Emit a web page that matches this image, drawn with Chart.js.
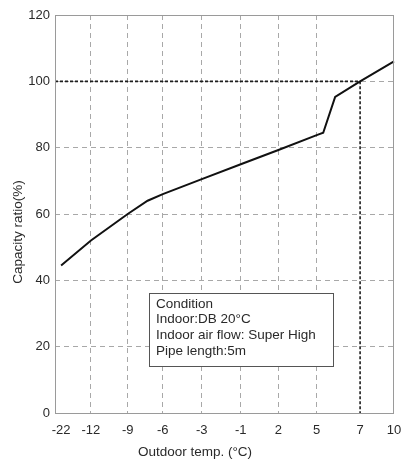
<!DOCTYPE html>
<html>
<head>
<meta charset="utf-8">
<script src="https://cdn.jsdelivr.net/npm/chart.js@4/dist/chart.umd.min.js"></script>
<style>
  html, body { margin: 0; padding: 0; background: #fff; }
  #wrap { width: 402px; height: 473px; }
</style>
</head>
<body>
<div id="wrap"><canvas id="c" width="402" height="473"></canvas></div>
<script>
// ---- data ----
const outdoorTemps = [-22, -12, -9, -7.3, -6, -3, -1, 2, 5, 5.3, 5.85, 7, 10];
const capacityRatios = [44.5, 52, 60, 64, 66, 70.5, 75, 79.3, 83.8, 84.5, 95.3, 100, 106];
const xTickLabels = [-22, -12, -9, -6, -3, -1, 2, 5, 7, 10];
const yTickLabels = [0, 20, 40, 60, 80, 100, 120];
const ratedTemp = 7;
const ratedRatio = 100;
const conditionLines = ["Condition", "Indoor:DB 20°C", "Indoor air flow: Super High", "Pipe length:5m"];
const xTitle = "Outdoor temp. (°C)";
const yTitle = "Capacity ratio(%)";

// ---- layout of the non-uniform temperature axis (fraction of axis width per tick) ----
const xTickFractions = [0.018, 0.106, 0.2145, 0.318, 0.433, 0.548, 0.659, 0.772, 0.900, 1.0];

function tempToFrac(v) {
  const t = xTickLabels, f = xTickFractions, n = t.length;
  let i = 0;
  if (v <= t[0]) i = 0;
  else if (v >= t[n - 1]) i = n - 2;
  else { while (i < n - 2 && v > t[i + 1]) i++; }
  return f[i] + (v - t[i]) / (t[i + 1] - t[i]) * (f[i + 1] - f[i]);
}
function fracToTemp(p) {
  const t = xTickLabels, f = xTickFractions, n = t.length;
  let i = 0;
  if (p <= f[0]) i = 0;
  else if (p >= f[n - 1]) i = n - 2;
  else { while (i < n - 2 && p > f[i + 1]) i++; }
  return t[i] + (p - f[i]) / (f[i + 1] - f[i]) * (t[i + 1] - t[i]);
}

class PiecewiseScale extends Chart.LinearScale {
  determineDataLimits() {
    this.min = fracToTemp(0);
    this.max = fracToTemp(1);
  }
  buildTicks() {
    return xTickLabels.map(v => ({ value: v }));
  }
  getPixelForValue(value) {
    return this.getPixelForDecimal(tempToFrac(value));
  }
  getValueForPixel(pixel) {
    return fracToTemp(this.getDecimalForPixel(pixel));
  }
}
PiecewiseScale.id = 'piecewise';
PiecewiseScale.defaults = Chart.LinearScale.defaults;
Chart.register(PiecewiseScale);

const FONT = "'Liberation Sans', Arial, sans-serif";
const TEXT = '#2a2a2a';

const decor = {
  id: 'decor',
  beforeDatasetsDraw(chart) {
    const { ctx, chartArea: a, scales: { x, y } } = chart;
    const px = x.getPixelForValue(ratedTemp);
    const py = y.getPixelForValue(ratedRatio);
    const py0 = y.getPixelForValue(0);
    ctx.save();
    ctx.strokeStyle = '#1e1e1e';
    ctx.lineWidth = 1.6;
    ctx.setLineDash([3, 2]);
    ctx.beginPath();
    ctx.moveTo(a.left, py);
    ctx.lineTo(px, py);
    ctx.moveTo(px, py);
    ctx.lineTo(px, py0);
    ctx.stroke();
    ctx.restore();
  },
  afterDraw(chart) {
    const { ctx, chartArea: a } = chart;
    ctx.save();
    // plot frame
    ctx.strokeStyle = '#9a9a9a';
    ctx.lineWidth = 1;
    ctx.setLineDash([]);
    ctx.strokeRect(Math.round(a.left) + 0.5, Math.round(a.top) + 0.5,
                   Math.round(a.right - a.left) - 1, Math.round(a.bottom - a.top));
    // condition box
    const bx = a.left + 94, by = a.top + 278, bw = 184, bh = 73;
    ctx.fillStyle = '#fff';
    ctx.fillRect(bx, by, bw, bh);
    ctx.strokeStyle = '#555';
    ctx.strokeRect(bx + 0.5, by + 0.5, bw, bh);
    ctx.fillStyle = TEXT;
    ctx.font = "13.5px " + FONT;
    ctx.textBaseline = 'middle';
    ctx.textAlign = 'left';
    conditionLines.forEach((s, i) => ctx.fillText(s, bx + 7, by + 11 + i * 15.6));
    // axis titles
    ctx.textAlign = 'center';
    ctx.fillText(xTitle, 195, 452);
    ctx.translate(18, 232);
    ctx.rotate(-Math.PI / 2);
    ctx.fillText(yTitle, 0, 0);
    ctx.restore();
  }
};

new Chart(document.getElementById('c'), {
  type: 'line',
  data: {
    datasets: [{
      data: outdoorTemps.map((t, i) => ({ x: t, y: capacityRatios[i] })),
      borderColor: '#111',
      borderWidth: 2,
      pointRadius: 0,
      tension: 0,
      fill: false
    }]
  },
  options: {
    responsive: false,
    animation: false,
    devicePixelRatio: 1,
    layout: { padding: { left: 0, top: 15, right: 8, bottom: 0 } },
    plugins: { legend: { display: false }, tooltip: { enabled: false } },
    scales: {
      x: {
        type: 'piecewise',
        afterFit(s) { s.height = 60; s.paddingLeft = 0; s.paddingRight = 0; },
        border: { display: false, dash: [5, 4] },
        grid: {
          drawTicks: false,
          lineWidth: 1,
          color: c => (c.tick && (c.tick.value === -22 || c.tick.value === 7 || c.tick.value === 10)) ? 'rgba(0,0,0,0)' : '#a8a8a8'
        },
        ticks: {
          autoSkip: false, maxRotation: 0, padding: 10,
          color: TEXT, font: { family: FONT, size: 13 },
          callback: v => String(v)
        }
      },
      y: {
        type: 'linear',
        min: yTickLabels[0],
        max: yTickLabels[yTickLabels.length - 1],
        afterFit(s) { s.width = 55; s.paddingTop = 0; s.paddingBottom = 0; },
        afterBuildTicks(s) { s.ticks = yTickLabels.map(v => ({ value: v })); },
        border: { display: false, dash: [5, 4] },
        grid: {
          drawTicks: false,
          lineWidth: 1,
          color: c => (c.tick && (c.tick.value === 0 || c.tick.value === 120)) ? 'rgba(0,0,0,0)' : '#a8a8a8'
        },
        ticks: {
          padding: 5,
          color: TEXT, font: { family: FONT, size: 13 },
          callback: v => String(v)
        }
      }
    }
  },
  plugins: [decor]
});
</script>
</body>
</html>
